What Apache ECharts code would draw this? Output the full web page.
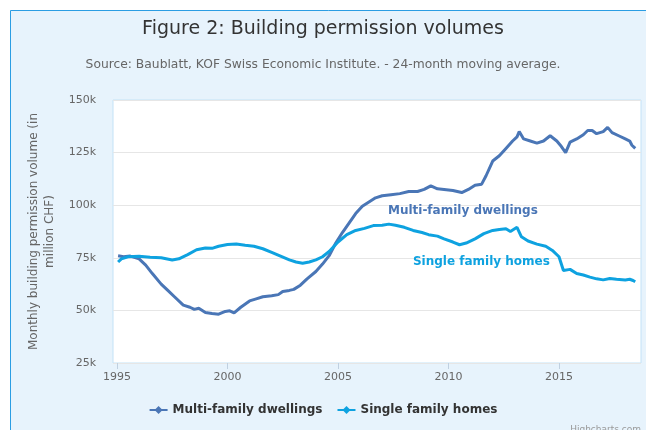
<!DOCTYPE html>
<html><head><meta charset="utf-8">
<script src="https://cdn.jsdelivr.net/npm/echarts@6/dist/echarts.min.js"></script>
<style>html,body{margin:0;padding:0;background:#fff}#c{width:646px;height:430px}</style>
</head><body><div id="c"></div>
<script>
const title = 'Figure 2: Building permission volumes';
const subtitle = 'Source: Baublatt, KOF Swiss Economic Institute. - 24-month moving average.';
const yTicks = [25, 50, 75, 100, 125, 150];
const xTicks = [1995, 2000, 2005, 2010, 2015];
const seriesNames = ['Multi-family dwellings', 'Single family homes'];

const multiYears = [1995.05,1995.3,1995.6,1996.0,1996.3,1996.6,1997.0,1997.3,1997.6,1998.0,1998.3,1998.5,1998.7,1999.0,1999.3,1999.6,1999.9,2000.1,2000.3,2000.6,2001.0,2001.3,2001.6,2002.0,2002.3,2002.5,2002.8,2003.0,2003.3,2003.6,2004.0,2004.3,2004.6,2004.9,2005.2,2005.5,2005.8,2006.1,2006.4,2006.7,2007.0,2007.4,2007.8,2008.2,2008.6,2008.9,2009.2,2009.5,2009.8,2010.2,2010.6,2010.9,2011.2,2011.5,2011.7,2012.0,2012.3,2012.6,2012.9,2013.1,2013.2,2013.4,2013.7,2014.0,2014.3,2014.6,2014.9,2015.1,2015.3,2015.5,2015.8,2016.1,2016.3,2016.5,2016.7,2017.0,2017.2,2017.4,2017.7,2018.0,2018.2,2018.3,2018.38,2018.45];
const multiValues = [76,75.5,75.8,74.5,71.5,67.5,62.5,59.5,56.5,52.5,51.5,50.5,51,49,48.5,48.2,49.5,49.8,48.8,51.5,54.5,55.5,56.5,57,57.5,59,59.5,60,62,65,68.5,72,76,82,87,91.5,96,99.5,101.5,103.5,104.5,105,105.5,106.5,106.5,107.5,109.2,107.8,107.5,107,106,107.5,109.5,110,114,121,123.5,127,130.5,132.5,135,131.5,130.5,129.5,130.5,133,130.5,128,125,130,131.5,133.5,135.5,135.5,134,135,137,134.5,133,131.5,130.5,128.5,129,127];

const singleYears = [1995.05,1995.2,1995.5,1996.0,1996.5,1997.0,1997.5,1997.8,1998.2,1998.6,1999.0,1999.3,1999.6,2000.0,2000.4,2000.8,2001.2,2001.6,2002.0,2002.4,2002.8,2003.1,2003.4,2003.7,2004.0,2004.3,2004.6,2005.0,2005.4,2005.8,2006.2,2006.6,2007.0,2007.3,2007.6,2008.0,2008.4,2008.8,2009.1,2009.5,2009.8,2010.2,2010.5,2010.8,2011.2,2011.6,2012.0,2012.3,2012.6,2012.8,2013.1,2013.3,2013.6,2014.0,2014.4,2014.7,2015.0,2015.2,2015.5,2015.8,2016.1,2016.4,2016.7,2017.0,2017.3,2017.6,2018.0,2018.2,2018.35,2018.45];
const singleValues = [73,74.5,75.5,75.7,75.3,75,74,74.5,76.5,78.8,79.7,79.5,80.5,81.3,81.6,81,80.5,79.3,77.6,75.8,74,73,72.4,73,74,75.5,78,82.5,86,88,89,90.3,90.5,91,90.5,89.5,88,87,86,85.3,84,82.5,81.2,82,84,86.5,88,88.5,88.8,87.5,89.5,85,83,81.5,80.5,78.5,75.5,69,69.5,67.5,66.8,65.8,65,64.5,65.2,64.8,64.5,64.8,64.2,63.6];

const multiColor = '#4a76b6';
const singleColor = '#0ea2e0';
const FONT = 'DejaVu Sans';

const pair = (xs, ys) => xs.map((x, i) => [x, ys[i]]);

const frame = {type: 'rect', z: -10, silent: true, shape: {x: 10.5, y: 10.5, width: 700, height: 500}, style: {fill: '#e7f3fc', stroke: '#2b9de3', lineWidth: 1}};
const credit = {type: 'text', right: 5, bottom: -4, style: {text: 'Highcharts.com', fontFamily: FONT, fontSize: 9, fill: '#999999'}};

const chart = echarts.init(document.getElementById('c'), null, {renderer: 'canvas'});
chart.setOption({
  animation: false,
  backgroundColor: '#ffffff',
  textStyle: {fontFamily: FONT},
  title: [
    {text: title, left: 'center', top: 15, textStyle: {fontFamily: FONT, fontSize: 19, fontWeight: 'normal', color: '#333333'}},
    {text: subtitle, left: 'center', top: 54, textStyle: {fontFamily: FONT, fontSize: 12.3, fontWeight: 'normal', color: '#666666'}}
  ],
  graphic: [frame, credit],
  grid: {left: 113, right: 5, top: 100, bottom: 67, show: true, backgroundColor: '#ffffff', borderColor: '#c3e2f7', borderWidth: 1},
  legend: {
    bottom: 9, left: 'center', itemGap: 14, itemWidth: 18, itemHeight: 10,
    textStyle: {fontFamily: FONT, fontSize: 12, fontWeight: 'bold', color: '#333333'},
    data: seriesNames
  },
  xAxis: {
    type: 'value', min: 1994.82, max: 2018.71,
    axisLine: {show: false},
    splitLine: {show: false},
    axisTick: {show: true, length: 6, customValues: xTicks, lineStyle: {color: '#c0d0e0'}},
    axisLabel: {customValues: xTicks, color: '#666666', fontSize: 11, fontFamily: FONT, margin: 9, formatter: v => String(v)}
  },
  yAxis: {
    type: 'value', min: 25, max: 150, interval: 25,
    name: 'Monthly building permission volume (in\nmillion CHF)',
    nameLocation: 'middle', nameGap: 52, nameRotate: 90,
    nameTextStyle: {fontFamily: FONT, fontSize: 12, color: '#666666', lineHeight: 16, align: 'center'},
    axisLine: {show: false}, axisTick: {show: false},
    splitLine: {lineStyle: {color: '#e6e6e6'}},
    axisLabel: {color: '#666666', fontSize: 11, fontFamily: FONT, margin: 17, formatter: v => v + 'k'}
  },
  series: [
    {name: seriesNames[0], type: 'line', data: pair(multiYears, multiValues), color: multiColor,
     symbol: 'diamond', symbolSize: 9, showSymbol: false, lineStyle: {width: 3, color: multiColor}},
    {name: seriesNames[1], type: 'line', data: pair(singleYears, singleValues), color: singleColor,
     symbol: 'diamond', symbolSize: 9, showSymbol: false, lineStyle: {width: 3, color: singleColor}}
  ]
});

const p1 = chart.convertToPixel({gridIndex: 0}, [2007.26, 97.5]);
const p2 = chart.convertToPixel({gridIndex: 0}, [2008.39, 73.2]);
chart.setOption({graphic: [
  frame, credit,
  {type: 'text', x: p1[0], y: p1[1], z: 10, style: {text: seriesNames[0], fontFamily: FONT, fontSize: 12, fontWeight: 'bold', fill: multiColor, textVerticalAlign: 'middle'}},
  {type: 'text', x: p2[0], y: p2[1], z: 10, style: {text: seriesNames[1], fontFamily: FONT, fontSize: 12, fontWeight: 'bold', fill: singleColor, textVerticalAlign: 'middle'}}
]});
</script></body></html>
